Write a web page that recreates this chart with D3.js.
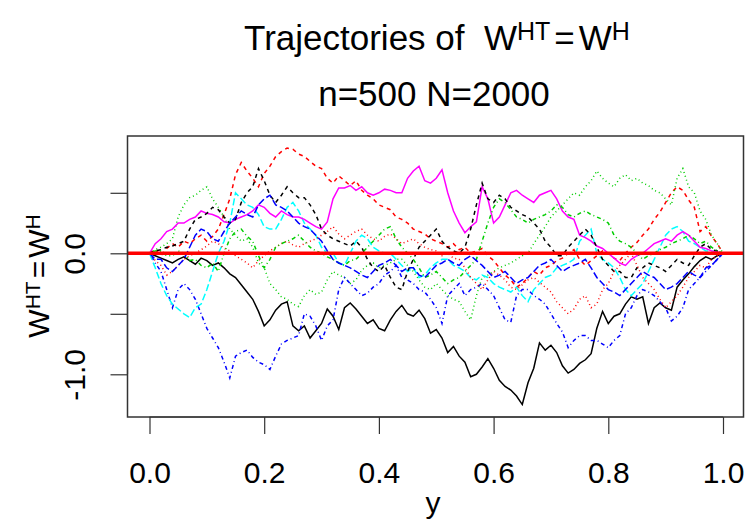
<!DOCTYPE html>
<html><head><meta charset="utf-8">
<script src="https://cdn.jsdelivr.net/npm/d3@7"></script>
<style>
html,body{margin:0;padding:0;background:#fff;}
text{font-family:"Liberation Sans",Arial,sans-serif;fill:#000;}
</style></head>
<body>
<svg id="chart" width="747" height="527"></svg>
<script>
// grid of the horizontal variable y
const xs = [0,0.01,0.02,0.03,0.04,0.05,0.06,0.07,0.08,0.09,0.1,0.11,0.12,0.13,0.14,0.15,0.16,0.17,0.18,0.19,0.2,0.21,0.22,0.23,0.24,0.25,0.26,0.27,0.28,0.29,0.3,0.31,0.32,0.33,0.34,0.35,0.36,0.37,0.38,0.39,0.4,0.41,0.42,0.43,0.44,0.45,0.46,0.47,0.48,0.49,0.5,0.51,0.52,0.53,0.54,0.55,0.56,0.57,0.58,0.59,0.6,0.61,0.62,0.63,0.64,0.65,0.66,0.67,0.68,0.69,0.7,0.71,0.72,0.73,0.74,0.75,0.76,0.77,0.78,0.79,0.8,0.81,0.82,0.83,0.84,0.85,0.86,0.87,0.88,0.89,0.9,0.91,0.92,0.93,0.94,0.95,0.96,0.97,0.98,0.99,1];
// ten trajectories (matplot columns)
const traj1 = [0,-0.02,-0.04,-0.06,-0.08,-0.05,-0.03,-0.06,-0.09,-0.04,-0.06,-0.1,-0.08,-0.12,-0.17,-0.2,-0.26,-0.32,-0.38,-0.48,-0.6,-0.55,-0.47,-0.42,-0.4,-0.6,-0.64,-0.6,-0.7,-0.64,-0.58,-0.46,-0.52,-0.63,-0.45,-0.41,-0.46,-0.52,-0.58,-0.55,-0.62,-0.64,-0.55,-0.48,-0.43,-0.5,-0.52,-0.47,-0.54,-0.66,-0.63,-0.7,-0.82,-0.77,-0.85,-0.9,-1.02,-1.0,-0.94,-0.87,-0.95,-1.05,-1.1,-1.13,-1.18,-1.25,-1.07,-0.95,-0.74,-0.8,-0.76,-0.82,-0.93,-0.99,-0.96,-0.91,-0.88,-0.83,-0.62,-0.48,-0.58,-0.52,-0.5,-0.42,-0.36,-0.38,-0.36,-0.58,-0.45,-0.41,-0.45,-0.47,-0.28,-0.22,-0.17,-0.11,-0.06,-0.03,-0.05,-0.02,0];
const traj2 = [0,0.03,-0.02,0.04,0.08,0.05,0.1,0.08,0.12,0.15,0.1,0.14,0.2,0.32,0.45,0.65,0.75,0.68,0.62,0.55,0.66,0.72,0.8,0.84,0.87,0.86,0.82,0.8,0.76,0.72,0.7,0.62,0.58,0.64,0.6,0.56,0.6,0.52,0.48,0.45,0.4,0.38,0.36,0.3,0.28,0.25,0.2,0.18,0.16,0.12,0.1,0.08,0.05,0.08,0.03,0.05,0,0.02,0.04,-0.02,-0.06,-0.12,-0.18,-0.22,-0.28,-0.25,-0.2,-0.15,-0.18,-0.12,-0.1,-0.06,-0.04,0,0.03,-0.05,-0.1,-0.06,-0.02,0.02,0,-0.04,-0.06,0,0.05,0.09,0.15,0.2,0.28,0.34,0.42,0.5,0.55,0.52,0.44,0.38,0.18,0.22,0.14,0.08,0];
const traj3 = [0,0.03,0.05,0.08,0.12,0.3,0.4,0.46,0.48,0.52,0.55,0.45,0.38,0.3,0.2,0.15,0.1,0.12,0.05,-0.08,-0.12,-0.25,-0.3,-0.36,-0.38,-0.42,-0.44,-0.35,-0.3,-0.34,-0.32,-0.22,-0.15,-0.18,-0.2,-0.25,-0.22,-0.14,-0.1,-0.08,-0.12,-0.1,-0.08,-0.05,-0.05,-0.1,-0.15,-0.22,-0.28,-0.3,-0.25,-0.3,-0.35,-0.38,-0.4,-0.48,-0.55,-0.35,-0.2,-0.18,-0.15,-0.12,-0.1,-0.08,-0.05,-0.02,0,0.08,0.15,0.22,0.3,0.35,0.4,0.45,0.5,0.48,0.55,0.6,0.68,0.62,0.58,0.55,0.62,0.65,0.6,0.62,0.58,0.56,0.52,0.5,0.45,0.4,0.62,0.7,0.55,0.5,0.35,0.28,0.15,0.08,0];
const traj4 = [0,-0.08,-0.15,-0.3,-0.45,-0.3,-0.25,-0.3,-0.38,-0.5,-0.62,-0.7,-0.78,-0.9,-1.03,-0.85,-0.82,-0.8,-0.86,-0.9,-0.92,-0.96,-0.85,-0.75,-0.72,-0.7,-0.68,-0.5,-0.52,-0.6,-0.72,-0.6,-0.55,-0.3,-0.2,-0.25,-0.3,-0.35,-0.33,-0.28,-0.25,-0.18,-0.15,-0.1,-0.2,-0.22,-0.25,-0.3,-0.32,-0.38,-0.45,-0.58,-0.35,-0.3,-0.25,-0.35,-0.3,-0.28,-0.25,-0.3,-0.35,-0.45,-0.55,-0.57,-0.35,-0.3,-0.3,-0.35,-0.38,-0.42,-0.5,-0.58,-0.65,-0.78,-0.72,-0.68,-0.68,-0.72,-0.72,-0.75,-0.78,-0.72,-0.68,-0.5,-0.45,-0.35,-0.3,-0.32,-0.35,-0.4,-0.45,-0.56,-0.52,-0.45,-0.3,-0.25,-0.2,-0.15,-0.1,-0.05,0];
const traj5 = [0,-0.12,-0.25,-0.35,-0.42,-0.46,-0.5,-0.53,-0.45,-0.42,-0.3,-0.15,0,0.1,0.25,0.5,0.45,0.4,0.38,0.32,0.22,0.2,0.2,0.28,0.38,0.42,0.35,0.25,0.2,0.15,0.05,0,0,-0.08,-0.1,0,0.1,0.15,0.12,0.05,0.02,0,0,-0.05,-0.1,-0.15,-0.12,-0.2,-0.18,-0.12,-0.08,-0.05,-0.05,-0.1,-0.12,-0.15,-0.2,-0.22,-0.18,-0.2,-0.25,-0.28,-0.3,-0.32,-0.28,-0.35,-0.4,-0.3,-0.25,-0.2,-0.18,-0.12,-0.1,-0.08,-0.05,0.1,0.15,0.2,0,-0.05,-0.08,-0.12,-0.2,-0.3,-0.35,-0.3,-0.25,-0.15,-0.05,0.05,0.15,0.2,0.22,0.18,0.1,0.08,0.05,0.02,0.02,0.01,0];
const traj6 = [0,0.08,0.12,0.18,0.2,0.25,0.25,0.28,0.3,0.35,0.33,0.32,0.3,0.26,0.25,0.28,0.3,0.32,0.35,0.4,0.38,0.33,0.3,0.35,0.32,0.3,0.3,0.28,0.25,0.22,0.2,0.26,0.45,0.54,0.54,0.56,0.52,0.55,0.5,0.48,0.5,0.53,0.52,0.5,0.5,0.62,0.68,0.72,0.6,0.58,0.62,0.69,0.5,0.35,0.25,0.17,0.22,0.26,0.55,0.45,0.25,0.3,0.4,0.5,0.52,0.48,0.45,0.42,0.48,0.5,0.52,0.45,0.35,0.3,0.28,0.15,0.13,0.1,0.06,0.04,0,-0.04,-0.08,-0.1,-0.05,-0.02,0,0.04,0.08,0.1,0.12,0.1,0.15,0.18,0.15,0.1,0.05,0.04,0.02,0.01,0];
const traj7 = [0,0.02,0.03,0.05,0.06,0.08,0.1,0.2,0.28,0.3,0.33,0.38,0.36,0.3,0.25,0.28,0.42,0.5,0.55,0.7,0.6,0.48,0.42,0.48,0.55,0.5,0.46,0.46,0.4,0.32,0.2,0.15,0.12,0.1,0.08,0.06,0.1,0.05,-0.05,-0.12,-0.15,-0.1,-0.2,-0.28,-0.3,-0.15,-0.05,0.05,0.1,0.15,0.2,0.1,0.05,0.02,0,0.05,0.2,0.4,0.58,0.45,0.42,0.48,0.45,0.38,0.35,0.32,0.3,0.25,0.2,0.1,0.05,-0.02,-0.02,0.05,0.1,0.15,0.2,0.15,0.05,-0.05,-0.1,-0.15,-0.15,-0.2,-0.2,-0.12,-0.12,-0.08,-0.1,-0.12,-0.15,-0.1,-0.05,-0.08,-0.1,-0.02,0.05,0.08,0.03,0.02,0];
const traj8 = [0,-0.06,-0.1,-0.18,-0.15,-0.1,-0.05,-0.02,0,0.03,0.06,0.1,0.08,0.04,0.02,-0.02,-0.05,-0.08,-0.12,-0.06,-0.02,0.02,0.05,0.08,0.1,0.07,0.05,0.08,0.1,0.12,0.15,0.18,0.22,0.16,0.12,0.15,0.18,0.2,0.15,0.12,0.1,0.14,0.16,0.12,0.08,0.1,0.12,0.08,0.05,0.03,0.02,-0.02,0,-0.04,-0.05,-0.12,-0.2,-0.25,-0.3,-0.22,-0.15,-0.18,-0.22,-0.28,-0.3,-0.26,-0.22,-0.2,-0.24,-0.28,-0.32,-0.4,-0.45,-0.5,-0.46,-0.38,-0.35,-0.45,-0.42,-0.3,-0.25,-0.15,-0.1,-0.05,0,-0.1,-0.2,-0.25,-0.3,-0.38,-0.45,-0.4,-0.35,-0.28,-0.2,-0.15,-0.1,-0.12,-0.05,-0.02,0];
const traj9 = [0,0.02,0.02,-0.02,-0.02,0.02,0,-0.06,-0.05,-0.1,-0.12,-0.08,-0.15,0,0.12,0.18,0.2,0.14,0.1,-0.02,-0.12,-0.05,0.05,0.08,0.1,0.12,0.15,0.1,0.05,0.02,0,-0.03,-0.05,-0.08,-0.1,-0.06,-0.05,0,0.05,0.1,0.15,0.2,0.22,0.12,0.05,0,-0.05,-0.12,-0.2,-0.18,-0.15,-0.2,-0.25,-0.22,-0.2,-0.15,-0.1,-0.05,0.1,0.25,0.38,0.45,0.42,0.36,0.3,0.28,0.25,0.28,0.3,0.32,0.35,0.4,0.38,0.32,0.3,0.33,0.35,0.32,0.3,0.28,0.25,0.15,0.1,0.08,0.05,0,-0.05,-0.02,0,0.03,0.05,0.08,0.1,0.12,0.15,0.12,0.08,0.1,0.05,0.02,0];
const traj10 = [0,-0.05,-0.05,-0.12,-0.15,-0.1,-0.05,0.05,0.15,0.2,0.18,0.12,0.1,0.18,0.25,0.3,0.35,0.32,0.3,0.4,0.45,0.48,0.4,0.38,0.35,0.3,0.25,0.22,0.2,0.15,0.1,0.02,-0.05,-0.08,-0.1,-0.12,-0.15,-0.18,-0.2,-0.15,-0.1,-0.08,-0.05,-0.1,-0.15,-0.12,-0.12,-0.18,-0.2,-0.15,-0.1,-0.08,-0.05,-0.08,-0.1,-0.05,-0.02,-0.06,-0.1,-0.15,-0.2,-0.18,-0.15,-0.2,-0.25,-0.22,-0.2,-0.15,-0.1,-0.08,-0.05,-0.1,-0.15,-0.12,-0.1,-0.08,-0.05,-0.12,-0.2,-0.25,-0.3,-0.32,-0.35,-0.3,-0.25,-0.2,-0.15,-0.18,-0.2,-0.25,-0.3,-0.28,-0.25,-0.2,-0.15,-0.18,-0.2,-0.12,-0.1,-0.05,0];
const seriesList = [traj1,traj2,traj3,traj4,traj5,traj6,traj7,traj8,traj9,traj10];
const seriesColors = ["#000000","#FF0000","#00CD00","#0000FF","#00FFFF","#FF00FF","#000000","#FF0000","#00CD00","#0000FF"];
const seriesDash = ["none","4,4","1,3","1,3,4,3","7,3","none","4,4","1,3","1,3,4,3","7,3"];
const xTicks = [0,0.2,0.4,0.6,0.8,1.0];
const xTickLabels = ["0.0","0.2","0.4","0.6","0.8","1.0"];
const yTicks = [-1,-0.5,0,0.5];
const yTickLabels = ["-1.0","","0.0",""];
const refLine = [0];

const svg = d3.select("#chart");
const box = {left:127.5, right:743.5, top:136, bottom:417};
const x = d3.scaleLinear().domain([0,1]).range([149.5,723]);
const y = d3.scaleLinear().domain([-1,0]).range([374.3,253.3]);

// trajectories
const line = d3.line().defined((d,i)=>i<xs.length).x((d,i)=>x(xs[i])).y(d=>y(d));
const g = svg.append("g");
seriesList.forEach((s,k)=>{
  g.append("path").datum(s).attr("d",line)
    .attr("fill","none").attr("stroke",seriesColors[k])
    .attr("stroke-width",1.5)
    .attr("stroke-linejoin","miter")
    .attr("stroke-dasharray",seriesDash[k]);
});
// reference line
svg.selectAll(".ref").data(refLine).enter().append("line")
  .attr("x1",box.left).attr("x2",box.right)
  .attr("y1",d=>y(d)).attr("y2",d=>y(d))
  .attr("stroke","#FF0000").attr("stroke-width",3.4);

// box
svg.append("rect").attr("x",box.left).attr("y",box.top)
  .attr("width",box.right-box.left).attr("height",box.bottom-box.top)
  .attr("fill","none").attr("stroke","#333").attr("stroke-width",1.5);

// x axis
const xa = svg.append("g").attr("transform",`translate(0,${box.bottom})`)
  .call(d3.axisBottom(x).tickValues(xTicks).tickSize(17).tickFormat((d,i)=>xTickLabels[i]));
xa.select(".domain").attr("d",`M${x(0)},0H${x(1)}`).attr("stroke","#333").attr("stroke-width",1.2);
xa.selectAll(".tick line").attr("stroke","#333").attr("stroke-width",1.2);
xa.selectAll(".tick text").attr("y",65.5).attr("dy",null)
  .style("font-size","30px").style("font-family","'Liberation Sans',Arial,sans-serif").attr("fill","#000");

// y axis
const ya = svg.append("g").attr("transform",`translate(${box.left},0)`)
  .call(d3.axisLeft(y).tickValues(yTicks).tickSize(17).tickFormat((d,i)=>yTickLabels[i]));
ya.select(".domain").attr("d",`M0,${y(-1)}V${y(0.5)}`).attr("stroke","#333").attr("stroke-width",1.2);
ya.selectAll(".tick line").attr("stroke","#333").attr("stroke-width",1.2);
ya.selectAll(".tick text").attr("x",0).attr("y",0).attr("dy",null)
  .attr("transform","translate(-43,0) rotate(-90)")
  .attr("text-anchor","middle")
  .style("font-size","30px").style("font-family","'Liberation Sans',Arial,sans-serif").attr("fill","#000");

// titles
const t1 = svg.append("text").attr("x",437).attr("y",50).attr("text-anchor","middle").style("font-size","35px");
t1.append("tspan").text("Trajectories of\u00A0 W");
t1.append("tspan").attr("dy",-10).style("font-size","25px").text("HT");
t1.append("tspan").attr("dy",10).attr("dx",4).text("=");
t1.append("tspan").attr("dx",4).text("W");
t1.append("tspan").attr("dy",-10).style("font-size","25px").text("H");
svg.append("text").attr("x",434).attr("y",106).attr("text-anchor","middle").style("font-size","35px").text("n=500 N=2000");

// axis titles
svg.append("text").attr("x",433).attr("y",513).attr("text-anchor","middle").style("font-size","30px").text("y");
const yl = svg.append("text").attr("transform","translate(49,276) rotate(-90)").attr("text-anchor","middle").style("font-size","30px");
yl.append("tspan").text("W");
yl.append("tspan").attr("dy",-9).style("font-size","21px").text("HT");
yl.append("tspan").attr("dy",9).attr("dx",3).text("=");
yl.append("tspan").attr("dx",3).text("W");
yl.append("tspan").attr("dy",-9).style("font-size","21px").text("H");
</script>
</body></html>
